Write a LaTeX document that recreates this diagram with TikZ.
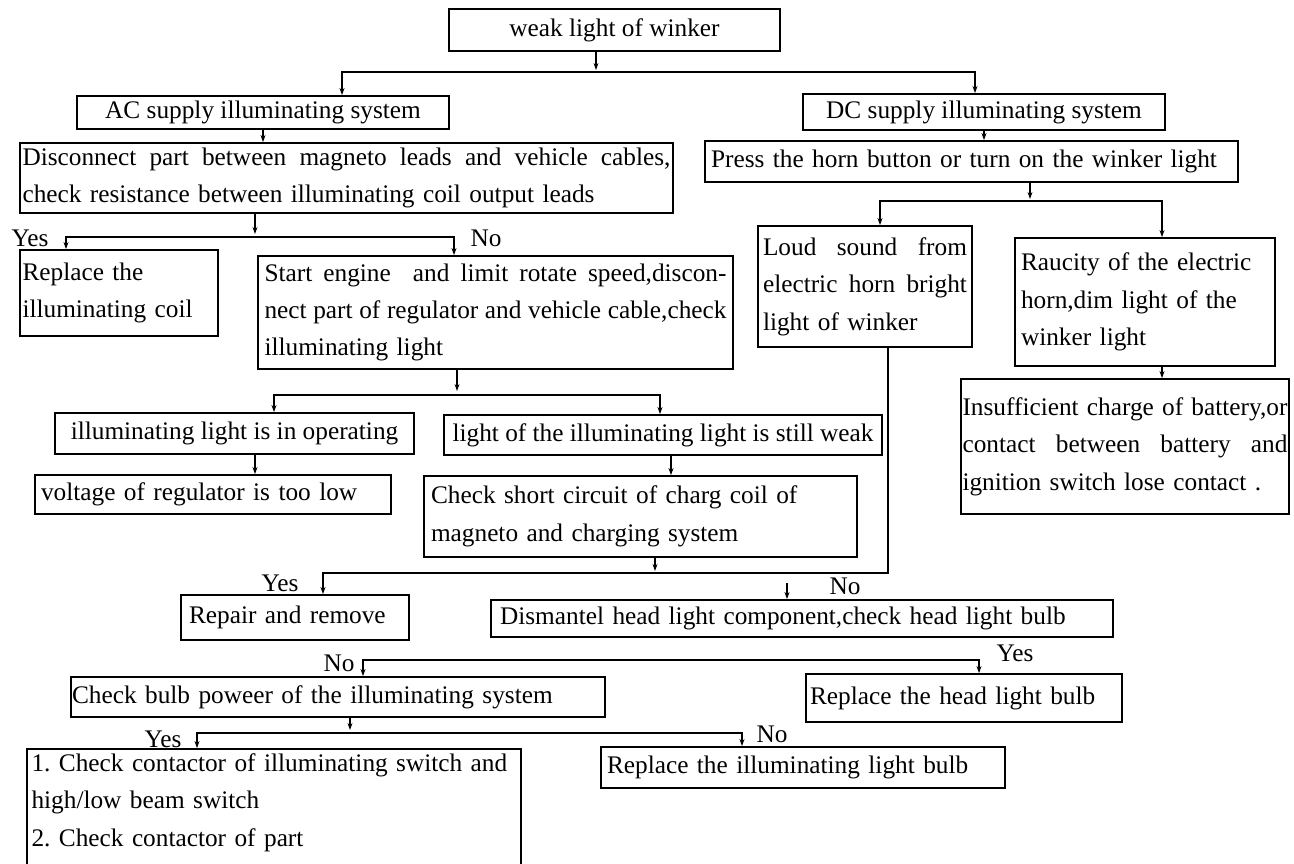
\documentclass[tikz,border=0pt]{standalone}
\usepackage{fontspec}
\setmainfont{Liberation Serif}
\usetikzlibrary{arrows.meta}
\newcommand{\justline}[1]{\makebox[\hsize][s]{\spaceskip=0pt\xspaceskip=0pt #1}}

\begin{document}
\begin{tikzpicture}[x=0.02cm, y=-0.02cm, line width=0.8pt,
    font=\fontsize{14.4}{21.3}\selectfont\frenchspacing,
    >={Stealth[length=4pt,width=2.8pt]},
    flowbox/.style={draw, line width=1pt, inner sep=0pt},
    leftbox/.style={flowbox, align=left},
    answer/.style={inner sep=0pt}]
    \useasboundingbox (0,0) rectangle (1294,863);

    \node[flowbox, minimum width=6.62cm, minimum height=0.84cm] (weak) at (614.5,30) {weak light of winker};
    \node[flowbox, minimum width=7.44cm, minimum height=0.66cm] (ac) at (263,112.5) {AC supply illuminating system};
    \node[flowbox, minimum width=7.24cm, minimum height=0.72cm] (dc) at (984,112) {DC supply illuminating system};
    \node[leftbox, text width=12.96cm, inner xsep=0.05cm, minimum height=1.40cm] (disc) at (346.5,178)
        {\justline{Disconnect part between magneto leads and vehicle cables,}\\check resistance between illuminating coil output leads};
    \node[leftbox, text width=10.42cm, inner xsep=0.12cm, minimum height=0.82cm] (press) at (971.5,161.5) {Press the horn button or turn on the winker light};
    \node[leftbox, text width=3.86cm, inner xsep=0.05cm, minimum height=1.72cm] (coil) at (119,293) {Replace the\\illuminating coil};
    \node[leftbox, text width=9.24cm, inner xsep=0.13cm, minimum height=2.26cm] (start) at (495.5,312.5)
        {\justline{Start engine\ \ and limit rotate speed,discon-}\\\justline{nect part of regulator and vehicle cable,check}\\illuminating light};
    \node[leftbox, text width=4.08cm, inner xsep=0.1cm, minimum height=2.42cm] (loud) at (865,286.5)
        {\justline{Loud sound from}\\\justline{electric horn bright}\\light of winker};
    \node[leftbox, text width=4.96cm, inner xsep=0.12cm, minimum height=2.56cm] (rauc) at (1145,302)
        {Raucity of the electric\\horn,dim light of the\\winker light};
    \node[leftbox, text width=6.5cm, inner xsep=0.03cm, minimum height=2.70cm] (insuf) at (1125,446.5)
        {\justline{Insufficient charge of battery,or}\\\justline{contact between battery and}\\ignition switch lose contact .};
    \node[flowbox, minimum width=7.18cm, minimum height=0.82cm] (oper) at (234.5,433.5) {illuminating light is in operating};
    \node[flowbox, minimum width=8.76cm, minimum height=0.80cm] (still) at (663,435) {light of the illuminating light is still weak};
    \node[leftbox, text width=6.88cm, inner xsep=0.12cm, minimum height=0.78cm] (volt) at (213,494.5) {voltage of regulator is too low};
    \node[leftbox, text width=8.38cm, inner xsep=0.14cm, minimum height=1.62cm] (short) at (640.5,516.5)
        {Check short circuit of charg coil of\\magneto and charging system};
    \node[leftbox, text width=4.24cm, inner xsep=0.16cm, minimum height=0.90cm] (repair) at (295,617.5) {Repair and remove};
    \node[leftbox, text width=12.08cm, inner xsep=0.18cm, minimum height=0.74cm] (dism) at (802,618.5) {Dismantel head light component,check head light bulb};
    \node[leftbox, text width=10.64cm, inner xsep=0.02cm, minimum height=0.80cm] (bulbpow) at (338,697) {Check bulb poweer of the illuminating system};
    \node[leftbox, text width=6.16cm, inner xsep=0.08cm, minimum height=0.96cm] (headrep) at (964,698) {Replace the head light bulb};
    \node[leftbox, text width=7.84cm, inner xsep=0.12cm, minimum height=0.82cm] (illrep) at (803,767.5) {Replace the illuminating light bulb};
    \node[leftbox, text width=9.7cm, inner xsep=0.09cm, minimum height=3.0cm] (contact) at (274,824)
        {1. Check contactor of illuminating switch and\\high/low beam switch\\2. Check contactor of part\\\strut};

    \node[answer] (yes1) at (30,238) {Yes};
    \node[answer] (no1) at (486,238) {No};
    \node[answer] (yes2) at (280,583) {Yes};
    \node[answer] (no2) at (845,586) {No};
    \node[answer] (no3) at (339,663) {No};
    \node[answer] (yes3) at (1015,653) {Yes};
    \node[answer] (yes4) at (163,739) {Yes};
    \node[answer] (no4) at (772,734) {No};

    \coordinate (s1) at (596,70);
    \coordinate (b1l) at (342,72);
    \coordinate (b1r) at (975,72);
    \coordinate (s3) at (255,234);
    \coordinate (b3l) at (66,237);
    \coordinate (b3r) at (454,237);
    \coordinate (s4) at (457,391);
    \coordinate (b4l) at (274,395);
    \coordinate (b4r) at (660,395);
    \coordinate (s5) at (655,571);
    \coordinate (b5l) at (323,573);
    \coordinate (b5r) at (888,573);
    \coordinate (n5) at (787,583);
    \coordinate (b6l) at (363,660);
    \coordinate (b6r) at (979,660);
    \coordinate (s7) at (350,730);
    \coordinate (b7l) at (197,733);
    \coordinate (b7r) at (742,733);
    \coordinate (s8) at (1030,199);
    \coordinate (b8l) at (880,201);
    \coordinate (b8r) at (1162,201);

    \draw[->] (weak.south -| s1) -- (s1);
    \draw[<->] (ac.north -| b1l) -- (b1l) -- (b1r) -- (dc.north -| b1r);
    \draw[->] (ac.south) -- (ac.south |- disc.north);
    \draw[->] (dc.south) -- (dc.south |- press.north);
    \draw[->] (disc.south -| s3) -- (s3);
    \draw[<->] (coil.north -| b3l) -- (b3l) -- (b3r) -- (start.north -| b3r);
    \draw[->] (start.south -| s4) -- (s4);
    \draw[<->] (oper.north -| b4l) -- (b4l) -- (b4r) -- (still.north -| b4r);
    \draw[->] (oper.south -| s3) -- (volt.north -| s3);
    \draw[->] (still.south -| 671,0) -- (short.north -| 671,0);
    \draw[->] (short.south -| s5) -- (s5);
    \draw[->] (loud.south -| b5r) -- (b5r) -- (b5l) -- (repair.north -| b5l);
    \draw[->] (n5) -- (dism.north -| n5);
    \draw[<->] (bulbpow.north -| b6l) -- (b6l) -- (b6r) -- (headrep.north -| b6r);
    \draw[->] (bulbpow.south -| s7) -- (s7);
    \draw[<->] (contact.north -| b7l) -- (b7l) -- (b7r) -- (illrep.north -| b7r);
    \draw[->] (press.south -| s8) -- (s8);
    \draw[<->] (loud.north -| b8l) -- (b8l) -- (b8r) -- (rauc.north -| b8r);
    \draw[->] (rauc.south -| b8r) -- (insuf.north -| b8r);
\end{tikzpicture}
\end{document}
